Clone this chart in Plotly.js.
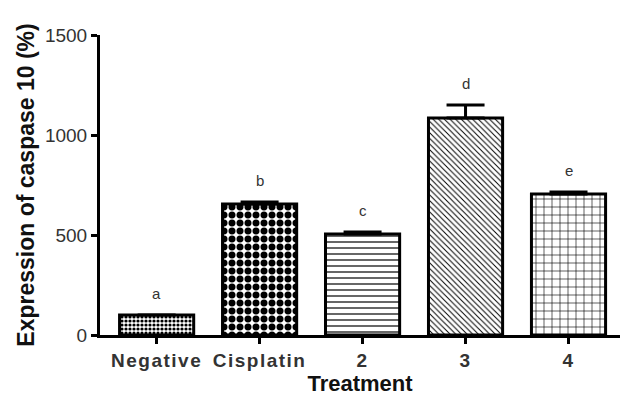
<!DOCTYPE html>
<html><head><meta charset="utf-8">
<script src="https://cdn.plot.ly/plotly-3.0.1.min.js"></script>
<style>body{margin:0;background:#fff}#c{width:623px;height:400px}
#c .xtick text{letter-spacing:1.5px}</style>
</head><body><div id="c"></div>
<script>
const categories = ["Negative", "Cisplatin", "2", "3", "4"];
const values = [100, 655, 505, 1085, 705];
const errors = [0, 10, 10, 65, 10];
const letters = ["a", "b", "c", "d", "e"];
const patterns = [".", ".", "-", "\\", "+"];

const trace = {
  type: "bar", x: categories, y: values, width: 0.72,
  marker: {
    color: "#ffffff",
    line: {color: "#000", width: 3},
    pattern: {shape: patterns, fgcolor: "#000", bgcolor: "#fff",
      size: [4, 8, 6, 4, 8], solidity: [0.5, 0.6, 0.2, 0.25, 0.15]}
  },
  error_y: {type: "data", array: errors, arrayminus: errors.map(() => 0), symmetric: false,
    color: "#000", thickness: 3, width: 19}
};

const annotations = categories.map((c, i) => ({
  x: c, y: values[i] + errors[i], yshift: 22, text: letters[i], showarrow: false,
  font: {family: "Liberation Sans, Arial", size: 15, color: "#333"}
}));

const layout = {
  width: 623, height: 400,
  margin: {l: 100, r: 3, t: 35, b: 65},
  paper_bgcolor: "#fff", plot_bgcolor: "#fff",
  showlegend: false,
  font: {family: "Liberation Sans, Arial", color: "#222"},
  xaxis: {
    type: "category", range: [-0.55, 4.5],
    showline: true, linecolor: "#000", linewidth: 3,
    ticks: "outside", ticklen: 6, tickwidth: 3, tickcolor: "#000",
    tickfont: {size: 19, family: "Liberation Sans, Arial", weight: "bold", color: "#333"},
    showgrid: false, zeroline: false,
    title: {text: "Treatment", font: {size: 22, weight: "bold", color: "#111"}, standoff: 6}
  },
  yaxis: {
    range: [0, 1500], tickvals: [0, 500, 1000, 1500],
    showline: true, linecolor: "#000", linewidth: 3,
    ticks: "outside", ticklen: 6, tickwidth: 3, tickcolor: "#000",
    tickfont: {size: 19, color: "#333"},
    showgrid: false, zeroline: false,
    title: {text: "Expression of caspase 10 (%)", font: {size: 23, weight: "bold", color: "#111"}, standoff: 4}
  },
  annotations: annotations
};

Plotly.newPlot("c", [trace], layout, {staticPlot: true, displayModeBar: false});
</script></body></html>
